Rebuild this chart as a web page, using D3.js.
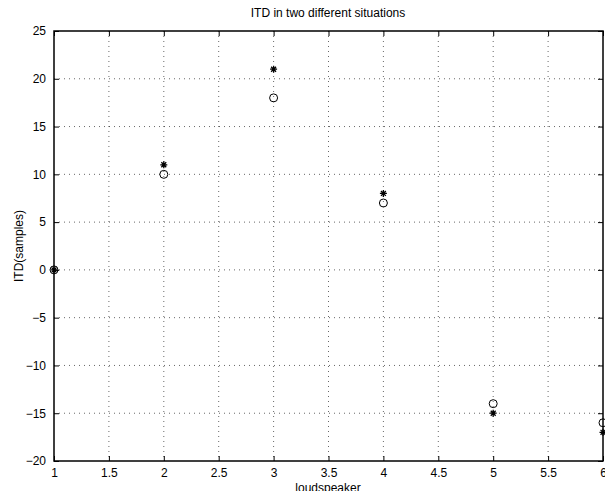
<!DOCTYPE html>
<html>
<head>
<meta charset="utf-8">
<script src="https://cdn.jsdelivr.net/npm/d3@7"></script>
<style>
  body { margin: 0; background: #fff; }
  text { font-family: "Liberation Sans", Arial, Helvetica, sans-serif; }
</style>
</head>
<body>
<div id="chart"></div>
<script>
// data
var speakers = [1, 2, 3, 4, 5, 6];
var itdCircle = [0, 10, 18, 7, -14, -16];
var itdStar = [0, 11, 21, 8, -15, -17];
var xTicks = [1, 1.5, 2, 2.5, 3, 3.5, 4, 4.5, 5, 5.5, 6];
var yTicks = [-20, -15, -10, -5, 0, 5, 10, 15, 20, 25];

var W = 605, H = 491;
var pLeft = 54, pRight = 603, pTop = 31, pBottom = 461;

var svg = d3.select("#chart").append("svg")
    .attr("width", W).attr("height", H);

var x = d3.scaleLinear().domain([1, 6]).range([pLeft, pRight]);
var y = d3.scaleLinear().domain([-20, 25]).range([pBottom, pTop]);

var fmt = function (d) { return String(d).replace("-", "\u2212"); };

// grid (dotted)
var grid = svg.append("g");
grid.selectAll(".gx").data(xTicks.slice(1, -1)).enter().append("line")
    .attr("x1", d => x(d)).attr("x2", d => x(d))
    .attr("y1", pTop).attr("y2", pBottom)
    .attr("stroke", "#000").attr("stroke-width", 0.6)
    .attr("stroke-dasharray", "1,4");
grid.selectAll(".gy").data(yTicks.slice(1, -1)).enter().append("line")
    .attr("x1", pLeft).attr("x2", pRight)
    .attr("y1", d => y(d)).attr("y2", d => y(d))
    .attr("stroke", "#000").attr("stroke-width", 0.6)
    .attr("stroke-dasharray", "1,4");

// axes, ticks inward on all four sides
var tk = 5;
svg.append("g").attr("transform", "translate(0," + pBottom + ")")
    .call(d3.axisBottom(x).tickValues(xTicks).tickSizeInner(-tk).tickSizeOuter(0).tickPadding(7).tickFormat(fmt));
svg.append("g").attr("transform", "translate(0," + pTop + ")")
    .call(d3.axisTop(x).tickValues(xTicks).tickSizeInner(-tk).tickSizeOuter(0).tickFormat(""));
svg.append("g").attr("transform", "translate(" + pLeft + ",0)")
    .call(d3.axisLeft(y).tickValues(yTicks).tickSizeInner(-tk).tickSizeOuter(0).tickPadding(8).tickFormat(fmt));
svg.append("g").attr("transform", "translate(" + pRight + ",0)")
    .call(d3.axisRight(y).tickValues(yTicks).tickSizeInner(-tk).tickSizeOuter(0).tickFormat(""));

svg.selectAll(".domain").remove();
svg.selectAll(".tick line").attr("stroke", "#000").attr("stroke-width", 1);
svg.selectAll(".tick text").style("font-size", "12px").attr("fill", "#000")
    .style("font-family", "'Liberation Sans', Arial, sans-serif");

svg.append("rect")
    .attr("x", pLeft).attr("y", pTop)
    .attr("width", pRight - pLeft).attr("height", pBottom - pTop)
    .attr("fill", "none").attr("stroke", "#000").attr("stroke-width", 1.5);

// markers
svg.selectAll(".circ").data(speakers).enter().append("circle")
    .attr("cx", (d, i) => x(d)).attr("cy", (d, i) => y(itdCircle[i]))
    .attr("r", 4).attr("fill", "none").attr("stroke", "#000").attr("stroke-width", 1);

var star = function (s) {
  var a = s * 0.7;
  return "M" + (-s) + ",0L" + s + ",0M0," + (-s) + "L0," + s +
         "M" + (-a) + "," + (-a) + "L" + a + "," + a +
         "M" + (-a) + "," + a + "L" + a + "," + (-a);
};
svg.selectAll(".star").data(speakers).enter().append("path")
    .attr("transform", (d, i) => "translate(" + x(d) + "," + y(itdStar[i]) + ")")
    .attr("d", star(3.5)).attr("stroke", "#000").attr("stroke-width", 1.3).attr("fill", "none");

// labels
svg.append("text").attr("x", 328).attr("y", 17).attr("text-anchor", "middle")
    .style("font-size", "12px").text("ITD in two different situations");
svg.append("text").attr("x", 328).attr("y", 492).attr("text-anchor", "middle")
    .style("font-size", "12px").text("loudspeaker");
svg.append("text").attr("transform", "translate(23,246) rotate(-90)").attr("text-anchor", "middle")
    .style("font-size", "12px").text("ITD(samples)");
</script>
</body>
</html>
